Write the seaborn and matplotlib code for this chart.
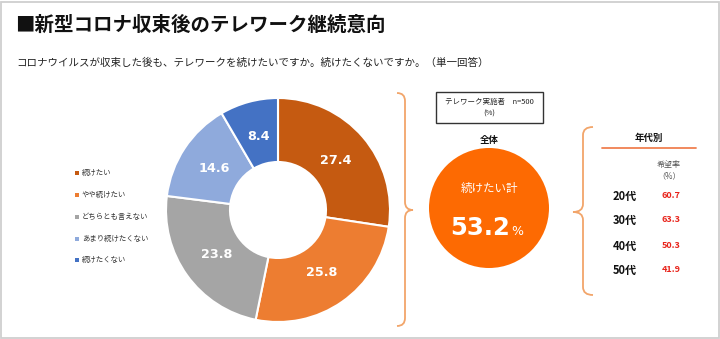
import matplotlib
matplotlib.use("Agg")
import matplotlib.pyplot as plt
import seaborn as sns
import numpy as np
from matplotlib.path import Path
from matplotlib.patches import PathPatch, Circle, Rectangle

# ---- data ----
categories = ["続けたい", "やや続けたい", "どちらとも言えない", "あまり続けたくない", "続けたくない"]
values = [27.4, 25.8, 23.8, 14.6, 8.4]
colors = ["#C55A11", "#ED7D31", "#A5A5A5", "#8FAADC", "#4472C4"]
total_label = "続けたい計"
total_value = 53.2
age_groups = ["20代", "30代", "40代", "50代"]
age_values = [60.7, 63.3, 50.3, 41.9]

sns.set_theme(style="white")
plt.rcParams["font.family"] = ["Noto Sans CJK JP", "DejaVu Sans"]

W, H = 720, 339
fig = plt.figure(figsize=(W / 100, H / 100), dpi=100)
ax = fig.add_axes([0, 0, 1, 1])


def Y(y):
    return H - y


# border
ax.add_patch(Rectangle((1, 1), W - 2.5, H - 2.5, fill=False, edgecolor="#CFCFCF", lw=1.3))

# title
ax.text(15, Y(25), "■新型コロナ収束後のテレワーク継続意向", fontsize=14, fontweight="bold",
        ha="left", va="center", color="#111111")
ax.text(16, Y(63), "コロナウイルスが収束した後も、テレワークを続けたいですか。続けたくないですか。（単一回答）",
        fontsize=7.55, ha="left", va="center", color="#222222")

# donut
cx, cy, R, wd = 278, Y(210), 112, 64
wedges, _ = ax.pie(values, colors=colors, startangle=90, counterclock=False,
                   center=(cx, cy), radius=R, frame=True,
                   wedgeprops=dict(width=wd, edgecolor="white", linewidth=1.5))
for w, v in zip(wedges, values):
    ang = np.deg2rad((w.theta1 + w.theta2) / 2)
    r = R - wd / 2 - 4
    ax.text(cx + r * np.cos(ang), cy + r * np.sin(ang), f"{v:.1f}", color="white",
            fontsize=9.2, fontweight="bold", ha="center", va="center", family="DejaVu Sans")

# legend
leg_y = [173, 195, 217, 239, 260]
for c, lab, yy in zip(colors, categories, leg_y):
    ax.scatter([77], [Y(yy)], marker="s", s=6, color=c, linewidths=0)
    ax.text(82, Y(yy), lab, fontsize=5.3, ha="left", va="center", color="#333333")

brace_col = "#F2A56A"
# left brace "}"
verts = [(397, 93), (405, 93), (405, 101), (405, 202), (405, 210), (413, 210),
         (405, 210), (405, 218), (405, 318), (405, 326), (397, 326)]
codes = [Path.MOVETO, Path.CURVE3, Path.CURVE3, Path.LINETO, Path.CURVE3, Path.CURVE3,
         Path.CURVE3, Path.CURVE3, Path.LINETO, Path.CURVE3, Path.CURVE3]
ax.add_patch(PathPatch(Path([(x, Y(y)) for x, y in verts], codes), fill=False,
                       edgecolor=brace_col, lw=1.3))
# right brace "{"
verts2 = [(593, 127), (583, 127), (583, 135), (583, 204), (583, 212), (573, 212),
          (583, 212), (583, 220), (583, 287), (583, 295), (593, 295)]
ax.add_patch(PathPatch(Path([(x, Y(y)) for x, y in verts2], codes), fill=False,
                       edgecolor=brace_col, lw=1.3))

# sample box
ax.add_patch(Rectangle((436, Y(123)), 107, 31, fill=False, edgecolor="#333333", lw=1))
ax.text(489.5, Y(102), "テレワーク実施者　n=500", fontsize=5.4, ha="center", va="center", color="#222222")
ax.text(489.5, Y(114), "(%)", fontsize=5.4, ha="center", va="center", color="#222222")

# overall circle
ax.text(489, Y(140), "全体", fontsize=6.8, fontweight="bold", ha="center", va="center", color="#111111")
ax.add_patch(Circle((489, Y(208)), 60, color="#FD6A02", lw=0))
ax.text(489, Y(188), total_label, fontsize=8.3, ha="center", va="center", color="white")
ax.text(510, Y(235), f"{total_value:.1f}", fontsize=17.5, fontweight="bold", ha="right",
        va="baseline", color="white", family="DejaVu Sans")
ax.text(511, Y(235), "%", fontsize=9, ha="left", va="baseline", color="white", family="DejaVu Sans")

# age table
ax.text(649, Y(138), "年代別", fontsize=6.8, fontweight="bold", ha="center", va="center", color="#111111")
ax.plot([602, 696], [Y(148), Y(148)], color="#F08050", lw=1.3)
ax.text(669, Y(164), "希望率", fontsize=5.8, ha="center", va="center", color="#555555")
ax.text(669, Y(176), "（%）", fontsize=5.8, ha="center", va="center", color="#555555")
row_y = [196, 220, 246, 270]
for g, v, yy in zip(age_groups, age_values, row_y):
    ax.text(625, Y(yy), g, fontsize=8, fontweight="bold", ha="center", va="center", color="#111111")
    ax.text(671, Y(yy), f"{v:.1f}", fontsize=6.5, fontweight="bold", ha="center", va="center",
            color="#E8231A")

ax.set_xlim(0, W)
ax.set_ylim(0, H)
ax.set_aspect("auto")
ax.axis("off")
fig.savefig("out.png", dpi=100)
